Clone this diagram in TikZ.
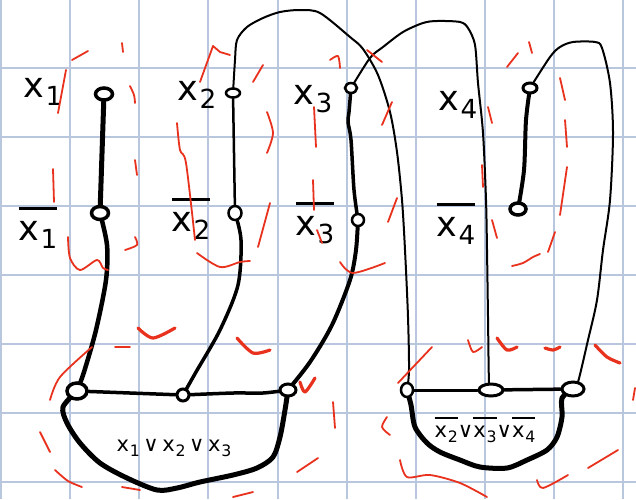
\documentclass[tikz,border=0pt]{standalone}
\usepackage{fontspec}
\usepackage{graphicx}
\newfontfamily\handf{DejaVu Sans}
\usetikzlibrary{shapes.geometric}
\definecolor{gridc}{HTML}{B8C6DE}
\definecolor{redm}{HTML}{E8321E}
\newcommand\lt[1]{x\kern0.04em\raisebox{-0.45ex}{\scalebox{0.75}{#1}}}
\newcommand\nlt[1]{\setbox0\hbox{\lt{#1}}\vbox{\hrule height 0.09em\kern0.3em\box0}}
\pgfdeclarelayer{bg}
\pgfdeclarelayer{edges}
\pgfsetlayers{bg,edges,main}
\begin{document}
\begin{tikzpicture}[x=1pt,y=-1pt,
  vtx/.style={draw,ellipse,fill=white,inner sep=0pt,line width=#1},
  vtx/.default=3pt,
  edg/.style={line cap=round,line join=round,line width=#1},
  rd/.style={draw=redm,line cap=round,line join=round,line width=1.8pt},
  rdt/.style={draw=redm,line cap=round,line join=round,line width=3.2pt},
  lbl/.style={inner sep=0pt,anchor=base,font=\handf\fontsize{35}{40}\selectfont},
  cl/.style={inner sep=0pt,anchor=base,font=\handf\fontsize{21}{24}\selectfont}]
\useasboundingbox (0,0) rectangle (636,499);
\begin{pgfonlayer}{bg}
  \fill[white] (0,0) rectangle (636,499);
  \foreach \x in {1,70,139,208,278,347,416,485,554,623}
    \draw[gridc,line width=1.2pt] (\x,0) -- (\x,499);
  \foreach \y in {68,137,206,275,344,413,482}
    \draw[gridc,line width=1.2pt] (0,\y) -- (636,\y);
\end{pgfonlayer}

% vertices
\node[vtx=3.5pt,minimum width=17pt,minimum height=12pt] (v1) at (104,94) {};
\node[vtx=3.5pt,minimum width=17pt,minimum height=13pt] (nv1) at (100,213) {};
\node[vtx=2.5pt,minimum width=14pt,minimum height=9pt] (v2) at (233,93) {};
\node[vtx=2.5pt,minimum width=13pt,minimum height=14pt] (nv2) at (235,213) {};
\node[vtx=2.5pt,minimum width=12pt,minimum height=10pt] (v3) at (351,88) {};
\node[vtx=2.5pt,minimum width=12pt,minimum height=12pt] (nv3) at (358,220) {};
\node[vtx=3pt,minimum width=14pt,minimum height=10pt] (v4) at (530,88) {};
\node[vtx=3.5pt,minimum width=16pt,minimum height=12pt] (nv4) at (518,209) {};
\node[vtx=3.5pt,minimum width=20pt,minimum height=16pt] (c1a) at (77,391) {};
\node[vtx=3pt,minimum width=12pt,minimum height=12pt] (c1b) at (183,395) {};
\node[vtx=3pt,minimum width=16pt,minimum height=12pt] (c1c) at (288,390) {};
\node[vtx=2.5pt,minimum width=12pt,minimum height=14pt] (c2a) at (407,390) {};
\node[vtx=3pt,minimum width=24pt,minimum height=12pt] (c2b) at (491,390) {};
\node[vtx=3pt,minimum width=22pt,minimum height=14pt] (c2c) at (573,389) {};

% labels
\node[lbl] (lx1) at (43,97) {\lt{1}};
\node[lbl] (lnx1) at (38,240) {\nlt{1}};
\node[lbl] (lx2) at (197,100) {\lt{2}};
\node[lbl] (lnx2) at (191,231) {\nlt{2}};
\node[lbl] (lx3) at (313,104) {\lt{3}};
\node[lbl] (lnx3) at (315,235) {\nlt{3}};
\node[lbl] (lx4) at (458,110) {\lt{4}};
\node[lbl] (lnx4) at (456,236) {\nlt{4}};
\node[cl] (t1) at (174,451) {\lt{1}\,∨\,\lt{2}\,∨\,\lt{3}};
\node[cl] (t2) at (485,437) {\nlt{2}∨\nlt{3}∨\nlt{4}};

\begin{pgfonlayer}{edges}
  % variable edges
  \draw[edg=5pt] (v1) -- (nv1);
  \draw[edg=2.5pt] (v2) -- (nv2);
  \draw[edg=3.5pt] plot[smooth] coordinates {(v3) (349,112) (348,122) (351,140) (354,190) (nv3)};
  \draw[edg=4pt] plot[smooth] coordinates {(v4) (526,120) (524,170) (nv4)};
  % negated literals to clause 1
  \draw[edg=4.5pt] plot[smooth] coordinates {(nv1) (107,245) (106,280) (96,330) (84,372) (c1a)};
  \draw[edg=3.5pt] plot[smooth] coordinates {(nv2) (241,240) (238,285) (220,330) (196,372) (c1b)};
  \draw[edg=4pt] plot[smooth] coordinates {(nv3) (356,250) (350,280) (332,325) (310,362) (c1c)};
  % clause 1 triangle
  \draw[edg=3.5pt] (c1a) -- (c1b);
  \draw[edg=3.5pt] plot[smooth] coordinates {(c1b) (233,393) (263,393) (c1c)};
  \draw[edg=5pt] plot[smooth] coordinates {(c1a) (63,407) (67,423) (80,443) (100,463) (127,478) (157,490) (177,488) (200,482) (233,475) (257,468) (273,457) (280,437) (285,410) (c1c)};
  % long connectors to clause 2
  \draw[edg=2pt] plot[smooth] coordinates {(v2) (235,60) (237,40) (247,27) (263,18) (280,12) (300,10) (320,13) (350,37) (363,49) (378,75) (390,112) (397,152) (402,200) (405,250) (408,317) (409,370) (c2a)};
  \draw[edg=2pt] plot[smooth] coordinates {(v3) (370,58) (383,47) (403,32) (423,23) (437,21) (460,22) (468,28) (475,45) (478,83) (483,133) (486,200) (487,250) (488,317) (489,383) (c2b)};
  \draw[edg=2pt] plot[smooth] coordinates {(v4) (550,57) (560,47) (573,42) (595,42) (602,48) (610,83) (613,133) (610,200) (603,250) (597,300) (588,340) (578,382) (c2c)};
  % clause 2 triangle
  \draw[edg=3pt] (c2a) -- (c2b);
  \draw[edg=3.5pt] (c2b) -- (c2c);
  \draw[edg=5pt] plot[smooth] coordinates {(c2a) (411,405) (415,427) (427,443) (440,452) (460,460) (480,467) (507,468) (527,460) (547,450) (557,437) (562,417) (562,398) (c2c)};
\end{pgfonlayer}

% red marks
\draw[rd] (72,60) -- (88,51);
\draw[rd] (122,43) -- (123,52);
\draw[rd] (58,113) -- (66,70);
\draw[rd] plot[smooth] coordinates {(130,86) (134,95) (135,103)};
\draw[rd] (135,160) -- (137,175);
\draw[rd] (53,169) -- (54,202);
\draw[rd] plot[smooth] coordinates {(68,237) (70,258) (80,270) (97,260) (103,268) (108,270)};
\draw[rd] plot[smooth] coordinates {(125,250) (137,245) (135,237)};
\draw[rd] (200,82) -- (213,46) -- (220,52) -- (230,55);
\draw[rd] (253,82) -- (263,65);
\draw[rd] plot[smooth] coordinates {(267,112) (273,133) (267,153)};
\draw[rd] plot[smooth] coordinates {(177,123) (180,150) (186,163) (195,240)};
\draw[rd] (258,247) -- (270,203);
\draw[rd] (314,107) -- (316,147);
\draw[rd] (313,180) -- (314,210);
\draw[rd] (317,230) -- (322,243);
\draw[rd] plot[smooth] coordinates {(330,60) (338,56) (340,68)};
\draw[rd] (367,50) -- (382,62);
\draw[rd] (382,125) -- (392,102);
\draw[rd] (388,222) -- (397,198);
\draw[rd] (488,107) -- (492,123);
\draw[rd] (482,165) -- (483,187);
\draw[rd] (492,220) -- (497,238);
\draw[rd] (507,67) -- (518,53);
\draw[rd] (529,42) -- (532,53);
\draw[rd] (560,78) -- (565,100);
\draw[rd] (565,120) -- (567,147);
\draw[rd] (567,167) -- (560,215);
\draw[rd] (555,232) -- (548,252);
\draw[rd] plot[smooth] coordinates {(512,266) (523,263) (533,257) (540,254)};
\draw[rd] plot[smooth] coordinates {(197,253) (220,267) (240,262) (250,261)};
\draw[rdt] plot[smooth] coordinates {(138,328) (153,338) (175,328)};
\draw[rd] (115,347) -- (130,347);
\draw[rdt] plot[smooth] coordinates {(237,338) (253,353) (270,350)};
\draw[rd] plot[smooth] coordinates {(50,400) (60,377) (92,347)};
\draw[rd] (40,432) -- (50,452);
\draw[rd] plot[smooth] coordinates {(55,470) (68,481) (82,487)};
\draw[rd] (122,487) -- (140,490);
\draw[rdt] plot[smooth] coordinates {(300,382) (305,392) (315,378)};
\draw[rd] (297,472) -- (318,458);
\draw[rd] (233,497) -- (253,492);
\draw[rd] plot[smooth] coordinates {(340,262) (353,273) (385,263)};
\draw[rd] (398,383) -- (432,347);
\draw[rd] plot[smooth] coordinates {(468,340) (473,352) (482,347)};
\draw[rdt] plot[smooth] coordinates {(497,338) (507,350) (517,347)};
\draw[rdt] plot[smooth] coordinates {(545,348) (553,350) (560,347)};
\draw[rdt] plot[smooth] coordinates {(595,345) (607,357) (620,363)};
\draw[rd] (635,388) -- (633,400);
\draw[rd] (333,402) -- (335,428);
\draw[rd] plot[smooth] coordinates {(387,417) (382,427) (390,435)};
\draw[rd] plot[smooth] coordinates {(400,460) (407,477) (430,475) (460,483) (487,497)};
\draw[rd] plot[smooth] coordinates {(537,480) (543,488) (568,475)};
\draw[rd] (588,468) -- (618,450);
\end{tikzpicture}
\end{document}
